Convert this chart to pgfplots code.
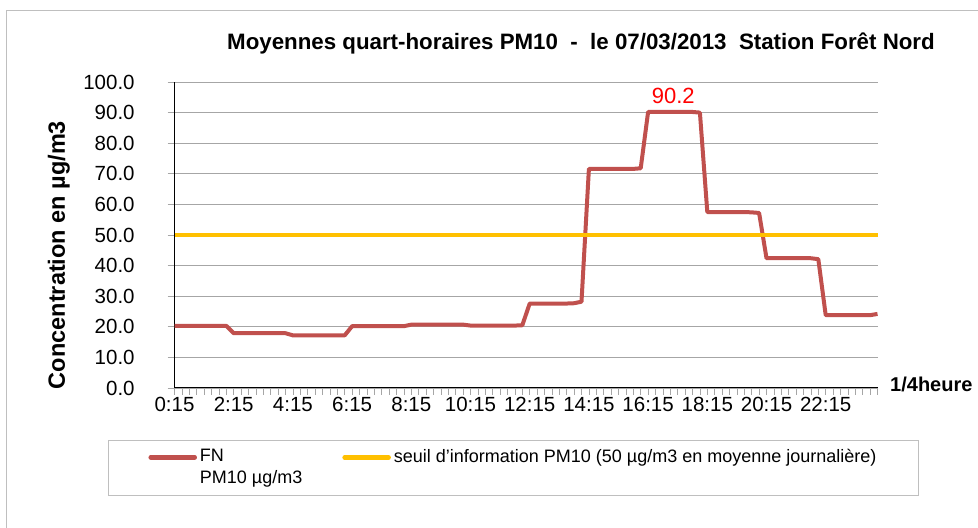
\documentclass[border=0pt]{standalone}
\usepackage{pgfplots}
\pgfplotsset{compat=1.18}
\usepackage{fontspec}
\setmainfont{Liberation Sans}
\definecolor{fnred}{HTML}{C0504D}
\definecolor{seuil}{HTML}{FFC000}
\definecolor{bordergray}{HTML}{BFBFBF}
\definecolor{gridgray}{HTML}{A6A6A6}
\begin{document}
\begin{tikzpicture}[x=1bp,y=1bp]
\fontsize{20bp}{24bp}\selectfont
\useasboundingbox (0,0) rectangle (978,528);
\draw[bordergray, line width=1.5bp] (6.5,-10) -- (6.5,517.5) -- (990,517.5);
\node[font=\fontsize{22.3bp}{26bp}\selectfont\bfseries] at (581,485) {Moyennes quart-horaires PM10~~-~~le 07/03/2013~~Station Forêt Nord};
\begin{axis}[
  at={(174.5bp,140bp)}, anchor=south west,
  scale only axis, width=703bp, height=306bp,
  xmin=0, xmax=95, ymin=0, ymax=100,
  axis x line*=bottom, axis y line*=left,
  axis line style={black, line width=1bp},
  ytick={0,10,...,100},
  yticklabels={0.0,10.0,20.0,30.0,40.0,50.0,60.0,70.0,80.0,90.0,100.0},
  xtick={0,8,...,88},
  xticklabels={0:15,2:15,4:15,6:15,8:15,10:15,12:15,14:15,16:15,18:15,20:15,22:15},
  minor xtick={0,1,...,95},
  ymajorgrids, grid style={gridgray, line width=0.8bp},
  tick align=outside,
  major tick length=7bp, minor tick length=7bp,
  tick style={gridgray, line width=0.8bp},
  ticklabel style={font=\fontsize{20.5bp}{24bp}\selectfont},
  xticklabel style={anchor=base, yshift=-17bp},
  yticklabel style={xshift=-26bp},
  ylabel={Concentration en µg/m3},
  ylabel style={font=\fontsize{23.5bp}{28bp}\selectfont\bfseries, at={(axis description cs:-0.1645,0.4346)}, anchor=center, rotate=0},
  xlabel={1/4heure},
  xlabel style={font=\fontsize{20bp}{24bp}\selectfont\bfseries, at={(axis description cs:1.0083,0.01)}, anchor=west},
  legend columns=2,
  legend style={at={(axis description cs:-0.0946,-0.3545)}, anchor=south west, draw=bordergray, line width=1bp,
    font=\fontsize{18bp}{22bp}\selectfont, inner xsep=40bp, inner ysep=7bp, column sep=1bp,
    /tikz/every even column/.append style={column sep=38bp},
    cells={anchor=north west, align=left}},
  legend image code/.code={\draw[#1, line width=4.5bp, line cap=round] (0bp,-10.3bp) -- (44bp,-10.3bp);},
  clip=false,
]
\addplot[fnred, line width=4bp, line join=round] table[x=i, y=v] {
i v
0 20.3
1 20.3
2 20.3
3 20.3
4 20.3
5 20.3
6 20.3
7 20.3
8 17.9
9 17.9
10 17.9
11 17.9
12 17.9
13 17.9
14 17.9
15 17.9
16 17.2
17 17.2
18 17.2
19 17.2
20 17.2
21 17.2
22 17.2
23 17.2
24 20.2
25 20.2
26 20.2
27 20.2
28 20.2
29 20.2
30 20.2
31 20.2
32 20.7
33 20.7
34 20.7
35 20.7
36 20.7
37 20.7
38 20.7
39 20.7
40 20.4
41 20.4
42 20.4
43 20.4
44 20.4
45 20.4
46 20.4
47 20.5
48 27.6
49 27.6
50 27.6
51 27.6
52 27.6
53 27.6
54 27.7
55 28.2
56 71.6
57 71.6
58 71.6
59 71.6
60 71.6
61 71.6
62 71.6
63 71.8
64 90.2
65 90.2
66 90.2
67 90.2
68 90.2
69 90.2
70 90.2
71 90.0
72 57.5
73 57.5
74 57.5
75 57.5
76 57.5
77 57.5
78 57.4
79 57.2
80 42.4
81 42.4
82 42.4
83 42.4
84 42.4
85 42.4
86 42.4
87 42.1
88 23.8
89 23.8
90 23.8
91 23.8
92 23.8
93 23.8
94 23.8
95 24.2
};
\addlegendentry{FN\\PM10 µg/m3}
\addplot[seuil, line width=4bp] table[x=i, y=v] {
i v
0 50
95 50
};
\addlegendentry{seuil d'information PM10 (50 µg/m3 en moyenne journalière)}
\node[red, anchor=south, font=\fontsize{22bp}{26bp}\selectfont] at (axis cs:67.4,90.6) {90.2};
\end{axis}
\end{tikzpicture}
\end{document}
